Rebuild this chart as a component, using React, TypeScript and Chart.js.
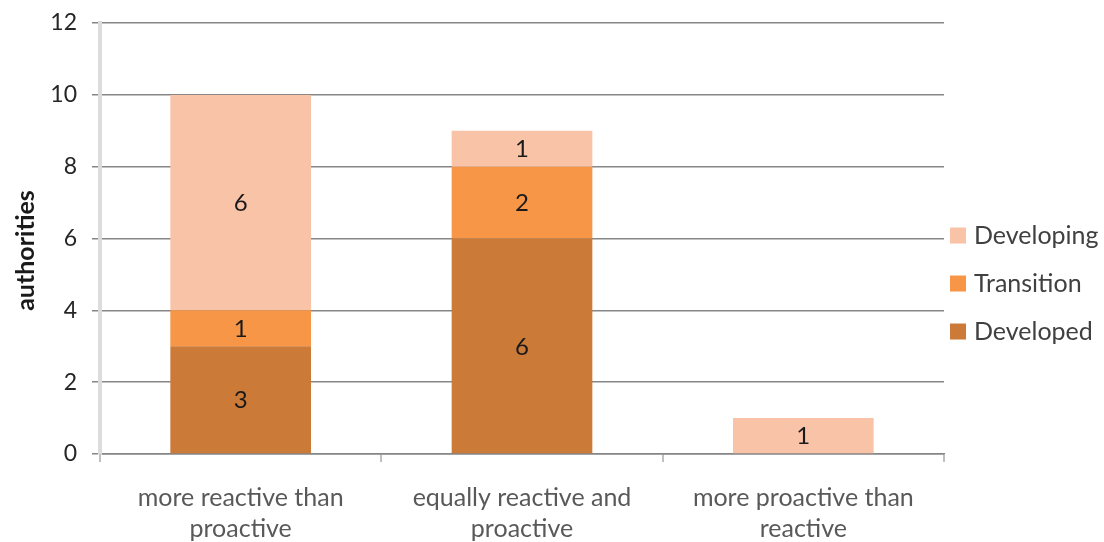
import React, { useEffect, useRef } from "react";
import { Chart, registerables } from "chart.js";

Chart.register(...registerables);

// Categories and stacked series (number of authorities)
const categories: string[][] = [
  ["more reactive than", "proactive"],
  ["equally reactive and", "proactive"],
  ["more proactive than", "reactive"],
];
const developed: number[] = [3, 6, 0];
const transition: number[] = [1, 2, 0];
const developing: number[] = [6, 1, 1];
const yTicks: number[] = [0, 2, 4, 6, 8, 10, 12];
const yTitle = "authorities";

const COLORS = {
  developed: "#CC7A38",
  transition: "#F79646",
  developing: "#F9C3A8",
};

const FONT = "Lato, 'Open Sans', sans-serif";

// Writes each non-zero segment value in the middle of its bar segment
const segmentLabels = {
  id: "segmentLabels",
  afterDatasetsDraw(chart: any) {
    const ctx = chart.ctx;
    ctx.save();
    ctx.font = `24px ${FONT}`;
    ctx.fillStyle = "#1a1a1a";
    ctx.textAlign = "center";
    ctx.textBaseline = "middle";
    chart.data.datasets.forEach((ds: any, di: number) => {
      const meta = chart.getDatasetMeta(di);
      meta.data.forEach((bar: any, i: number) => {
        const v = ds.data[i];
        if (!v) return;
        const { x, y, base } = bar.getProps(["x", "y", "base"], true);
        ctx.fillText(String(v), x, (y + base) / 2 + 1);
      });
    });
    ctx.restore();
  },
};

// Legend on the right, top-most series listed first
const sideLegend = {
  id: "sideLegend",
  afterDraw(chart: any) {
    const ctx = chart.ctx;
    const area = chart.chartArea;
    const items = chart.data.datasets.slice().reverse();
    const gap = 48;
    const centerY = (area.top + area.bottom) / 2 + 45;
    const startY = centerY - ((items.length - 1) * gap) / 2;
    const boxX = area.right + 6;
    ctx.save();
    ctx.font = `25px ${FONT}`;
    ctx.textBaseline = "middle";
    ctx.textAlign = "left";
    items.forEach((ds: any, i: number) => {
      const cy = startY + i * gap;
      ctx.fillStyle = ds.backgroundColor;
      ctx.fillRect(boxX, cy - 8, 16, 16);
      ctx.fillStyle = "#404040";
      ctx.fillText(ds.label, boxX + 24, cy);
    });
    ctx.restore();
  },
};

// Rotated value-axis title
const axisTitle = {
  id: "axisTitle",
  afterDraw(chart: any) {
    const ctx = chart.ctx;
    const area = chart.chartArea;
    ctx.save();
    ctx.translate(26, (area.top + area.bottom) / 2 + 12);
    ctx.rotate(-Math.PI / 2);
    ctx.font = `bold 25px ${FONT}`;
    ctx.fillStyle = "#1a1a1a";
    ctx.textAlign = "center";
    ctx.textBaseline = "middle";
    ctx.fillText(yTitle, 0, 0);
    ctx.restore();
  },
};

export default function App() {
  const canvasRef = useRef<HTMLCanvasElement | null>(null);

  useEffect(() => {
    document.body.style.margin = "0";
    const canvas = canvasRef.current;
    if (!canvas) return;
    const chart = new Chart(canvas, {
      type: "bar",
      data: {
        labels: categories,
        datasets: [
          { label: "Developed", data: developed, backgroundColor: COLORS.developed },
          { label: "Transition", data: transition, backgroundColor: COLORS.transition },
          { label: "Developing", data: developing, backgroundColor: COLORS.developing },
        ],
      },
      options: {
        animation: false,
        responsive: false,
        maintainAspectRatio: false,
        layout: { padding: { top: 0, right: 160, left: 0, bottom: 0 } },
        datasets: {
          bar: { categoryPercentage: 1, barPercentage: 0.5 },
        },
        plugins: {
          legend: { display: false },
          tooltip: { enabled: false },
        },
        scales: {
          x: {
            stacked: true,
            afterFit: (scale: any) => {
              scale.height = 88;
            },
            grid: {
              offset: true,
              drawOnChartArea: false,
              drawTicks: true,
              tickLength: 8,
              color: "#c0c0c0",
              lineWidth: 2,
            },
            border: { color: "#868686", width: 1.5 },
            ticks: {
              color: "#595959",
              font: { family: FONT, size: 25, lineHeight: 1.24 },
              padding: 20,
              maxRotation: 0,
              autoSkip: false,
            },
          },
          y: {
            stacked: true,
            min: 0,
            max: 12,
            afterFit: (scale: any) => {
              scale.width = 100;
            },
            afterBuildTicks: (scale: any) => {
              scale.ticks = yTicks.map((v) => ({ value: v }));
            },
            grid: {
              color: "#868686",
              lineWidth: 1.5,
              tickLength: 8,
            },
            border: { color: "#dcdcdc", width: 4 },
            ticks: {
              color: "#262626",
              font: { family: FONT, size: 23, lineHeight: 0.7 },
              padding: 15,
            },
          },
        },
      },
      plugins: [segmentLabels, sideLegend, axisTitle],
    });
    return () => chart.destroy();
  }, []);

  return (
    <div style={{ position: "absolute", left: 0, top: 0, width: 1104, height: 542, background: "#fff" }}>
      <canvas ref={canvasRef} width={1104} height={542} style={{ width: 1104, height: 542 }} />
    </div>
  );
}
